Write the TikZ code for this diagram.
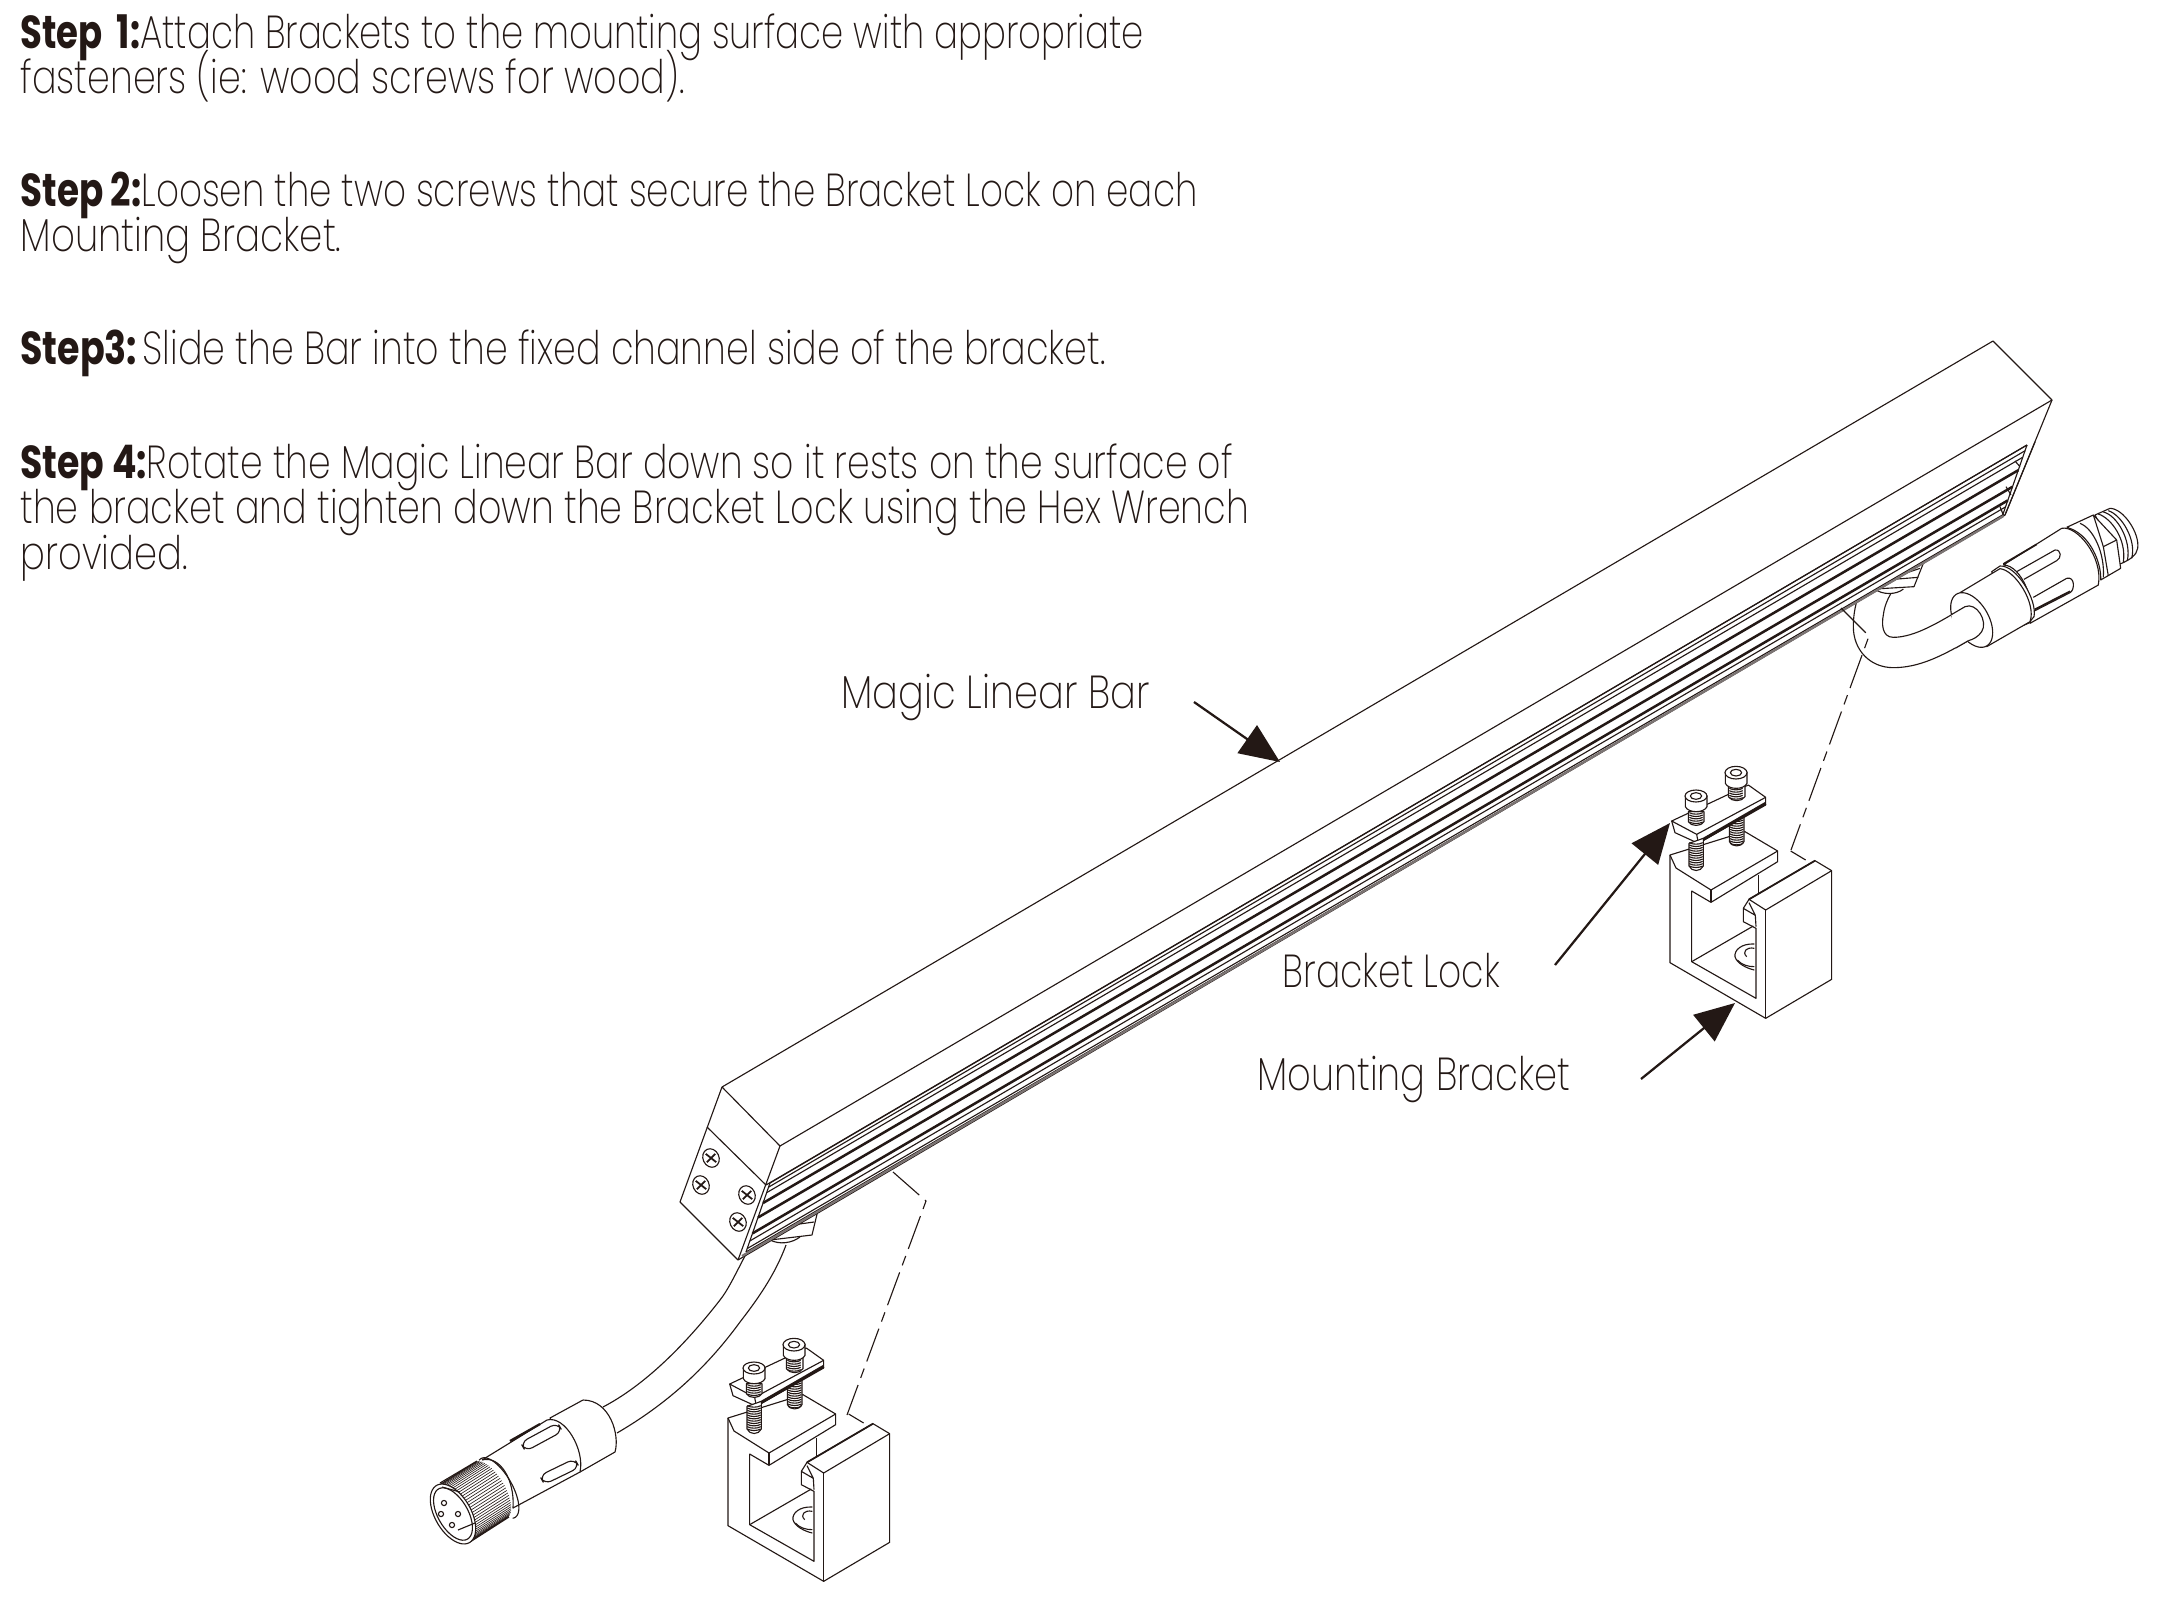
\documentclass[tikz,border=0pt]{standalone}
\usepackage{graphicx}
\usepackage{fontspec}
\setmainfont{Poppins}[UprightFont=* ExtraLight,BoldFont=* Bold]
\usetikzlibrary{calc,arrows.meta}
\definecolor{ink}{HTML}{231815}
\tikzset{
  ln/.style={draw=ink,line width=0.45pt,line join=round},
  thn/.style={draw=ink,line width=0.25pt},
  thk/.style={draw=ink,line width=1.0pt},
  txt/.style={anchor=base west,inner sep=0pt,text=ink,font=\fontsize{18.5}{22}\selectfont},
  leader/.style={draw=ink,line width=0.9pt,-{Triangle[length=16pt,width=13.5pt]}},
  dashline/.style={draw=ink,line width=0.45pt,dash pattern=on 14pt off 3pt on 4pt off 3pt}
}
\newcommand\axisarc[7][]{\draw[ln,#1] plot[domain=#6:#7,samples=40,variable=\t] ({#2+#4*cos(\t)*.5+#5*sin(\t)*.866},{#3+#4*cos(\t)*.866-#5*sin(\t)*.5});}
\newcommand\axisdisc[5][]{\draw[ln,fill=white,#1] plot[domain=0:360,samples=50,variable=\t] ({#2+#4*cos(\t)*.5+#5*sin(\t)*.866},{#3+#4*cos(\t)*.866-#5*sin(\t)*.5}) -- cycle;}
\newcommand\threads[3]{\foreach \yy in {#2,...,#3}{\draw[ln] (#1-20,\yy) .. controls (#1-10,\yy+6) and (#1+10,\yy+6) .. (#1+20,\yy);}}
\newcommand\platescrew[2]{\begin{scope}[shift={(#1,#2)},rotate=25]
  \draw[ln] (0,0) ellipse [x radius=8,y radius=9.5];
  \draw[draw=ink,line width=.7pt] (-3,-6) -- (3,6) (-5.5,2) -- (5.5,-2);
\end{scope}}
\newcommand\slotshape[5]{\draw[ln,fill=white,rounded corners=3pt] ($(#1,#2)+(#5*.5,#5*.866)$) -- ($(#3,#4)+(#5*.5,#5*.866)$) -- ($(#3,#4)-(#5*.5,#5*.866)$) -- ($(#1,#2)-(#5*.5,#5*.866)$) -- cycle;}
\newcommand\mountbracket[3]{\begin{scope}[shift={(#1,#2)},scale=1/3]
  \draw[ln] (572,333) -- (617,360);
  \draw[ln,fill=white] (210,345) -- (210,668) -- (497,835) -- (695,718) -- (695,392) -- (645,362) -- (447,478) -- (430,505) -- (430,545) -- (468,565) -- (468,775) -- (275,665) -- (275,453) -- (333,487) -- (533,365) -- (533,333) -- (435,275) -- cycle;
  \draw[line width=.7pt,draw=ink] (645,362) -- (447,478);
  \draw[ln] (447,478) -- (497,510) -- (695,392);
  \draw[ln] (497,510) -- (497,835);
  \draw[ln] (447,488) -- (466,526) -- (430,505);
  \draw[ln] (466,526) -- (468,560);
  \draw[ln] (275,665) -- (460,558);
  \draw[ln] (475,405) -- (475,462);
  \draw[ln] (210,345) -- (228,384) -- (333,450) -- (533,333);
  \draw[ln] (333,450) -- (333,487);
  \draw[ln] (463,612) .. controls (425,610) and (402,630) .. (405,650) .. controls (410,670) and (440,685) .. (463,690);
  \draw[ln] (463,625) .. controls (440,620) and (425,635) .. (440,650);
  \draw[ln] (412,660) .. controls (425,675) and (445,680) .. (463,680);
  \draw[ln,fill=white] (388,240) -- (388,305) .. controls (395,322) and (425,322) .. (432,305) -- (432,225) -- cycle;
  \threads{410}{240,247}{310}
  \draw[ln,fill=white] (215,243) -- (225,278) -- (295,310) -- (497,195) -- (497,172) -- (445,135) -- cycle;
  \draw[ln] (215,243) -- (290,283) -- (497,172);
  \draw[ln] (290,283) -- (295,310);
  \draw[draw=ink,line width=1.2pt] (298,305) -- (497,190);
  \draw[ln,fill=white] (267,310) -- (267,378) .. controls (275,396) and (302,396) .. (310,378) -- (310,295) -- cycle;
  \threads{288}{308,315}{380}
  \begin{scope}[yshift=#3*.4pt]
    \draw[ln,fill=white] (385,135) -- (385,170) .. controls (395,186) and (425,186) .. (435,170) -- (435,135) -- cycle;
    \threads{408}{138,145}{175}
    \draw[ln,fill=white] (376,96) -- (376,130) .. controls (385,150) and (432,150) .. (441,130) -- (441,96) -- cycle;
    \draw[ln,fill=white] (408,98) ellipse [x radius=33,y radius=19];
    \draw[ln] (408,98) ellipse [x radius=17,y radius=10];
    \draw[ln,fill=white] (265,215) -- (265,245) .. controls (272,260) and (305,260) .. (312,245) -- (312,215) -- cycle;
    \threads{288}{218,225}{250}
    \draw[ln,fill=white] (256,168) -- (256,200) .. controls (265,220) and (312,220) .. (321,200) -- (321,168) -- cycle;
    \draw[ln,fill=white] (288,168) ellipse [x radius=33,y radius=18];
    \draw[ln] (288,168) ellipse [x radius=17,y radius=10];
  \end{scope}
\end{scope}}
\begin{document}
\begin{tikzpicture}[x=0.4pt,y=-0.4pt]
\useasboundingbox (0,0) rectangle (2169,1601);
% ---- text
\node[txt] (s1a) at (20,48) {\resizebox{449.2pt}{\height}{\textbf{Step\hspace{.4em}1:}Attach Brackets to the mounting surface with appropriate}};
\node[txt] (s1b) at (20,93) {\resizebox{265.6pt}{\height}{fasteners (ie: wood screws for wood).}};
\node[txt] (s2a) at (20,206) {\resizebox{470.8pt}{\height}{\textbf{Step 2:}Loosen the two screws that secure the Bracket Lock on each}};
\node[txt] (s2b) at (20,251) {\resizebox{128.4pt}{\height}{Mounting Bracket.}};
\node[txt] (s3a) at (20,364) {\resizebox{434pt}{\height}{\textbf{Step3:}\hspace{.15em}Slide the Bar into the fixed channel side of the bracket.}};
\node[txt] (s4a) at (20,478) {\resizebox{485pt}{\height}{\textbf{Step 4:}Rotate the Magic Linear Bar down so it rests on the surface of}};
\node[txt] (s4b) at (20,523) {\resizebox{491.4pt}{\height}{the bracket and tighten down the Bracket Lock using the Hex Wrench}};
\node[txt] (s4c) at (20,569) {\resizebox{66.8pt}{\height}{provided.}};
\node[txt] (lbar) at (841,708) {\resizebox{123.2pt}{\height}{Magic Linear Bar}};
\node[txt] (llock) at (1282,987) {\resizebox{87pt}{\height}{Bracket Lock}};
\node[txt] (lmount) at (1257,1090) {\resizebox{125pt}{\height}{Mounting Bracket}};
% ---- near cable
\draw[ln] (786,1245) .. controls (775,1275) and (757,1300) .. (740,1322) .. controls (705,1370) and (665,1405) .. (617,1433);
\draw[ln] (747,1252) .. controls (735,1275) and (728,1290) .. (720,1300) .. controls (685,1345) and (645,1385) .. (603,1407);
% ---- far cable and clamp
\begin{scope}[shift={(1840,490)},scale=1/3]
  \draw[ln] (385,452) .. controls (310,495) and (240,533) .. (160,533) .. controls (90,533) and (40,480) .. (40,410) .. controls (40,385) and (43,360) .. (50,335);
  \draw[ln] (375,350) .. controls (300,395) and (225,442) .. (160,442) .. controls (125,442) and (125,400) .. (130,375) .. controls (133,350) and (142,328) .. (152,312);
  \draw[ln] (250,220) -- (222,290) -- (105,297);
  \draw[ln] (105,297) .. controls (125,315) and (170,315) .. (190,297);
  \draw[ln] (160,268) -- (235,262) (195,250) -- (240,235);
\end{scope}
% ---- near clamp
\draw[ln] (770,1240) -- (812,1235) -- (818,1210);
\draw[ln] (770,1240) .. controls (780,1245) and (792,1243) .. (800,1237);
\draw[ln] (785,1226) -- (814,1222) (795,1222) -- (816,1214);
% ---- bar
\coordinate (A) at (722,1087); \coordinate (T) at (1993,341);
\coordinate (B) at (780,1146); \coordinate (U) at (2052,400);
\coordinate (C) at (680,1202); \coordinate (D) at (738,1260);
\coordinate (F) at (2005,515); \coordinate (G) at (2035,442);
\coordinate (P) at (707,1127); \coordinate (Q) at (766,1185);
\coordinate (ch1) at (770,1183); \coordinate (ch2) at (746,1252);
\coordinate (ch3) at (2027,445); \coordinate (ch4) at (2002,517);
\draw[ln,fill=white] (A) -- (T) -- (U) -- (F) -- (ch4) -- (D) -- (C) -- cycle;
\draw[ln] (A) -- (B) -- (U);
\draw[ln] (B) -- (D);
\draw[ln] (P) -- (Q);
\draw[ln] (Q) -- (ch3);
\draw[ln] (ch1) -- (ch2);
\draw[ln] (ch3) -- (ch4);
\foreach \f/\g in {0/0,.06/.08,.14/.17,.84/.86,.95/.97,1/1}{\draw[ln] ($(ch1)!\f!(ch2)$) -- ($(ch3)!\g!(ch4)$);}
\foreach \f/\g in {.29/.35,.5/.58,.73/.77}{\draw[thk] ($(ch1)!\f!(ch2)$) -- ($(ch3)!\g!(ch4)$);}
\draw[draw=ink!60,line width=.9pt] ($(ch2)!.5!(D)$) -- ($(ch4)!.5!(F)$);
\begin{scope}[shift={(1920,330)},scale=1/3]
  \draw[ln] (285,393) -- (300,410) (258,470) -- (273,495) (240,530) -- (250,555);
\end{scope}
\draw[ln] (G) -- (F);
\platescrew{711}{1158}
\platescrew{701}{1185}
\platescrew{747}{1195}
\platescrew{738}{1222}
% ---- near connector
\draw[ln,fill=white] (583,1400) -- (550,1418) -- (580,1472) -- (615,1452) .. controls (620,1435) and (610,1400) .. (583,1400);
\draw[ln,fill=white] (482,1460) -- (547,1420) .. controls (565,1415) and (585,1450) .. (580,1472) -- (513,1508) .. controls (515,1480) and (500,1455) .. (482,1460);
\draw[draw=ink,line width=.9pt] (510,1441) -- (540,1424);
\slotshape{523}{1447}{560}{1427}{5}
\slotshape{542}{1480}{577}{1463}{5}
\axisarc{498}{1488}{34}{14}{-10}{190}
\foreach \t in {0,5,...,180}{\draw[thn] ({453+32*cos(\t)*.5+18*sin(\t)*.866},{1514+32*cos(\t)*.866-18*sin(\t)*.5}) -- ({491+32*cos(\t)*.5+14*sin(\t)*.866},{1490+32*cos(\t)*.866-14*sin(\t)*.5});}
\draw[ln] (440,1483) -- (477,1461);
\draw[ln] (470,1542) -- (509,1517);
\axisdisc{453}{1514}{33}{18}
\axisarc{453}{1514}{29}{15}{0}{360}
\draw[ln] (444,1503) circle [radius=2.6];
\draw[ln] (441,1514) circle [radius=2.6];
\draw[ln] (452,1525) circle [radius=2.6];
\draw[ln] (458,1514) circle [radius=2.6];
\draw[ln] (458,1530) -- (475,1523);
\draw[ln] (442,1487) -- (460,1492);
% ---- far connector
\begin{scope}[shift={(1840,490)},scale=1/3]
  \draw[ln,fill=white] (765,75) -- (810,55) .. controls (850,55) and (900,130) .. (893,175) .. controls (890,195) and (870,210) .. (840,222) -- cycle;
  \draw[ln] (790,66) .. controls (830,75) and (875,150) .. (862,212);
  \draw[ln] (805,62) .. controls (845,75) and (890,150) .. (875,205);
  \draw[ln] (775,72) .. controls (815,85) and (860,150) .. (850,216);
  \draw[ln,fill=white] (680,112) -- (760,75) -- (830,150) -- (842,235) -- (782,270) .. controls (785,220) and (750,130) .. (680,112);
  \draw[ln] (790,170) -- (830,150);
  \draw[ln] (790,170) -- (805,258);
  \draw[ln] (760,75) -- (790,170);
  \draw[ln] (720,100) .. controls (760,115) and (795,190) .. (790,262);
  \draw[ln,fill=white] (490,225) -- (665,115) .. controls (710,105) and (790,200) .. (775,285) -- (570,400) .. controls (590,340) and (545,225) .. (490,225);
  \draw[ln] (530,245) -- (645,180) .. controls (665,178) and (665,205) .. (650,212) -- (552,268);
  \draw[ln] (580,322) -- (680,265) .. controls (705,258) and (705,300) .. (690,308) -- (585,362);
  \draw[draw=ink,line width=.7pt] (490,222) -- (590,163);
  \draw[draw=ink,line width=.7pt] (585,358) -- (690,304);
  \draw[ln,fill=white] (455,245) -- (480,228) .. controls (530,225) and (592,330) .. (582,380) -- (565,400) -- (540,410) -- cycle;
  \draw[ln,fill=white] (360,308) -- (480,236) .. controls (525,240) and (590,340) .. (570,395) -- (440,470) -- cycle;
  \axisdisc{395}{390}{90}{51}
  \fill[white] (375,350) .. controls (410,335) and (445,395) .. (425,425) .. controls (415,440) and (400,448) .. (385,452) -- (347,474) -- (334,374) -- cycle;
  \draw[ln] (375,350) .. controls (410,335) and (445,395) .. (425,425) .. controls (415,440) and (400,448) .. (385,452);
  \draw[ln] (385,452) -- (347,474);
  \draw[ln] (375,350) -- (334,374);
\end{scope}
% ---- brackets
\mountbracket{1600}{740}{0}
\mountbracket{658}{1303}{-27}
% ---- dashed leaders
\coordinate (d1) at (1841,608); \coordinate (d2) at (1869,636); \coordinate (d3) at (1791,850);
\coordinate (d4) at (893,1172); \coordinate (d5) at (926,1201); \coordinate (d6) at (847,1415);
\draw[dashline] (d1) -- (d2) -- (d3);
\draw[dashline] (d4) -- (d5) -- (d6);
% ---- arrows
\coordinate (a1) at (1280,762); \coordinate (a2) at (1670,823); \coordinate (a3) at (1735,1003);
\coordinate (t1) at (1194,702); \coordinate (t2) at (1555,965); \coordinate (t3) at (1641,1079);
\draw[leader] (t1) -- (a1);
\draw[leader] (t2) -- (a2);
\draw[leader] (t3) -- (a3);
\end{tikzpicture}
\end{document}
